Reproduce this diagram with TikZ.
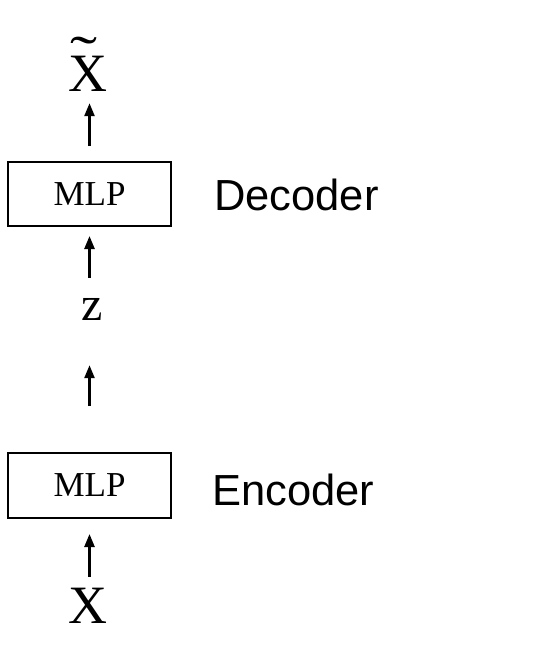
\documentclass[tikz,border=0pt]{standalone}
\usepackage{fontspec}
\usepackage{graphicx}
\setmainfont{Liberation Serif}
\newfontfamily\labelfont{Liberation Sans}
\usetikzlibrary{arrows.meta}
\newcommand{\widetildeX}{\rlap{\hspace{1.5pt}\raisebox{18pt}{\scalebox{1.5}[1]{\char"02DC}}}X}
\begin{document}
\begin{tikzpicture}[x=1pt,y=-1pt,
  mlpbox/.style={draw,line width=2pt,minimum width=163pt,minimum height=64pt,inner sep=0pt,font=\fontsize{35}{40}\selectfont},
  vartext/.style={inner sep=0pt,text depth=0pt},
  uparrow/.style={line width=2.5pt,-{Triangle[length=13pt,width=10pt]}},
  sidelabel/.style={anchor=base west,inner sep=0pt,font=\labelfont\fontsize{43.5}{48}\selectfont}
]
\useasboundingbox (0,0) rectangle (554,656);
\node[vartext,anchor=base,text height=36pt,font=\fontsize{54}{60}\selectfont] (xt) at (88,91) {\widetildeX};
\node[mlpbox] (dec) at (89.5,194) {MLP};
\node[vartext,anchor=base,text height=22pt,font=\fontsize{48}{54}\selectfont] (z) at (92,320) {z};
\node[mlpbox,minimum height=65pt] (enc) at (89.5,485.5) {MLP};
\node[vartext,anchor=base,text height=36pt,font=\fontsize{54}{60}\selectfont] (x) at (88,623) {X};
\node[sidelabel] (declabel) at (214,210) {Decoder};
\node[sidelabel] (enclabel) at (212,505) {Encoder};
\draw[uparrow,shorten <=15pt,shorten >=12pt] (dec.north) -- (dec.north |- xt.south);
\draw[uparrow,shorten <=20pt,shorten >=9pt] (dec.south |- z.north) -- (dec.south);
\draw[uparrow,shorten <=46pt,shorten >=45pt] (enc.north) -- (enc.north |- z.south);
\draw[uparrow,shorten <=10pt,shorten >=15pt] (enc.south |- x.north) -- (enc.south);
\end{tikzpicture}
\end{document}
